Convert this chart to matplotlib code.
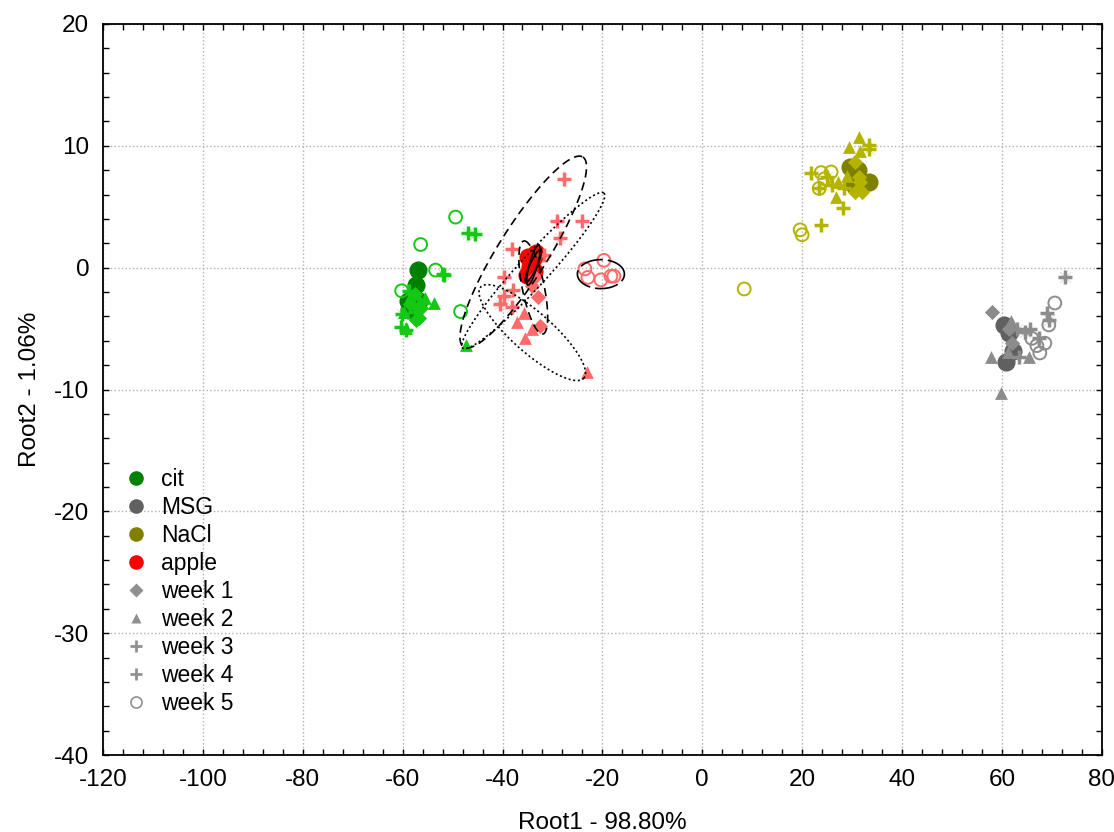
import numpy as np
import matplotlib
matplotlib.use('Agg')
import matplotlib.pyplot as plt
from matplotlib.lines import Line2D
from matplotlib.ticker import MultipleLocator

plt.rcParams['font.family'] = ['Liberation Sans', 'DejaVu Sans']
plt.rcParams['axes.unicode_minus'] = False

# group means (big filled circles)
cit_big = [(-57.0, -0.2), (-57.4, -1.4), (-59.0, -2.7), (-56.8, -2.7), (-58.8, -3.5)]
msg_big = [(60.5, -4.7), (61.5, -5.4), (62.3, -6.8), (60.9, -7.75)]
nacl_big = [(29.5, 8.3), (31.2, 8.0), (33.3, 7.0), (30.2, 6.9), (31.0, 7.4)]
apple_big = [(-33.3, 1.2), (-33.7, 0.9), (-34.1, 0.6), (-34.5, 0.05), (-35.1, -0.6),
             (-33.6, -0.3), (-34.8, 0.9)]

# samples per group and week
cit_w1 = [(-56.8, -4.1), (-58.5, -3.0), (-57.5, -2.2), (-56.3, -3.3), (-57.4, -4.3)]
cit_w2 = [(-53.8, -2.9), (-47.4, -6.35), (-56.5, -2.7), (-59.8, -3.6), (-55.5, -2.5), (-59.4, -4.95)]
cit_w3 = [(-51.8, -0.6), (-60.4, -4.9), (-59.4, -5.1), (-58.8, -1.9), (-57.5, -3.6)]
cit_w4 = [(-47.0, 2.85), (-45.6, 2.8), (-52.0, -0.5), (-60.2, -3.8)]
cit_w5 = [(-49.4, 4.15), (-56.4, 1.9), (-53.4, -0.2), (-60.2, -1.9), (-48.4, -3.6), (-58.0, -2.9)]

msg_w1 = [(58.1, -3.6), (61.5, -5.0), (62.0, -6.2)]
msg_w2 = [(57.9, -7.3), (65.4, -7.3), (59.9, -10.3), (61.8, -4.4), (61.3, -6.9)]
msg_w3 = [(69.0, -3.7), (65.6, -5.0), (67.4, -5.8), (63.5, -7.3)]
msg_w4 = [(72.6, -0.8), (69.4, -4.3), (64.6, -5.3), (63.0, -5.0)]
msg_w5 = [(70.6, -2.9), (69.4, -4.7), (68.6, -6.2), (67.0, -6.4), (67.6, -7.0), (66.0, -5.8)]

nacl_w1 = [(30.5, 8.7), (31.3, 7.4), (30.5, 6.2), (31.9, 6.2), (31.5, 7.0)]
nacl_w2 = [(31.3, 10.7), (29.3, 9.9), (31.5, 9.6), (26.8, 5.8), (27.2, 7.0), (29.0, 7.5)]
nacl_w3 = [(33.3, 10.1), (21.8, 7.8), (28.2, 4.9), (23.8, 3.5), (28.4, 6.5)]
nacl_w4 = [(33.3, 9.7), (23.4, 6.5), (26.0, 6.8), (25.0, 7.4)]
nacl_w5 = [(23.8, 7.8), (25.8, 7.85), (23.4, 6.5), (19.6, 3.1), (20.0, 2.7), (8.4, -1.75), (24.5, 7.3)]

apple_w1 = [(-32.9, -2.4), (-32.5, -4.8), (-34.0, -1.5), (-33.5, -0.8)]
apple_w2 = [(-35.7, -3.7), (-37.2, -4.5), (-35.5, -5.8), (-34.0, -5.0), (-23.1, -8.6)]
apple_w3 = [(-27.7, 7.3), (-29.1, 3.8), (-24.1, 3.8), (-38.2, 1.5), (-39.8, -0.8), (-38.0, -1.8)]
apple_w4 = [(-28.5, 2.4), (-31.7, 1.0), (-39.8, -2.3), (-40.6, -3.0), (-38.2, -3.2)]
apple_w5 = [(-23.5, -0.1), (-22.9, -0.8), (-20.3, -1.0), (-19.7, 0.6), (-18.3, -0.7), (-17.7, -0.7)]

# apple confidence ellipses: centre, conjugate half-axes (data units), style
ell_cx = [-33.84, -34.04, -35.85, -33.84, -20.3, -33.84, -33.84]
ell_cy = [-1.63, -5.33, 1.28, -0.24, -0.53, 0.21, 0.15]
ell_ux = [-1.91, 10.33, 11.94, 14.14, 4.71, 1.10, 1.50]
ell_uy = [3.82, -3.74, 7.80, 6.36, 0.0, 1.64, 1.35]
ell_vx = [2.16, -2.66, 4.25, 2.23, 0.0, 0.77, 0.68]
ell_vy = [0.18, -1.23, -1.09, -0.83, 1.19, -0.09, -0.10]
ell_ls = [(0, (5, 3)), (0, (1.2, 1.6)), (0, (5, 3)), (0, (1.2, 1.6)), (0, (14, 3)), '-', '-']

group_names = ['cit', 'MSG', 'NaCl', 'apple']
dark_cols = ['#008000', '#606060', '#808000', '#ff0000']
light_cols = ['#14c814', '#8c8c8c', '#b4b400', '#ff6b6b']
week_names = ['week 1', 'week 2', 'week 3', 'week 4', 'week 5']

big = [cit_big, msg_big, nacl_big, apple_big]
weeks = [[cit_w1, cit_w2, cit_w3, cit_w4, cit_w5],
         [msg_w1, msg_w2, msg_w3, msg_w4, msg_w5],
         [nacl_w1, nacl_w2, nacl_w3, nacl_w4, nacl_w5],
         [apple_w1, apple_w2, apple_w3, apple_w4, apple_w5]]

fig = plt.figure(figsize=(11.14, 8.32), dpi=100)
ax = fig.add_axes([0.0925, 0.0925, 0.8965, 0.8787])

for g in range(4):
    b = np.array(big[g])
    ax.scatter(b[:, 0], b[:, 1], s=170, c=dark_cols[g], zorder=3, linewidths=0)

for g in range(4):
    col = light_cols[g]
    w1, w2, w3, w4, w5 = [np.array(w) for w in weeks[g]]
    ax.scatter(w1[:, 0], w1[:, 1], s=60, marker='D', c=col, linewidths=0, zorder=4)
    ax.scatter(w2[:, 0], w2[:, 1], s=85, marker='^', c=col, linewidths=0, zorder=4)
    ax.scatter(w3[:, 0], w3[:, 1], s=95, marker='+', c=col, linewidths=2.5, zorder=4)
    ax.scatter(w4[:, 0], w4[:, 1], s=95, marker='+', c=col, linewidths=2.5, zorder=4)
    ax.scatter(w4[:, 0], w4[:, 1], s=60, marker='x', c=col, linewidths=0.6, alpha=0.35, zorder=4)
    ax.scatter(w5[:, 0], w5[:, 1], s=85, marker='o', facecolors='none', edgecolors=col,
               linewidths=1.4, zorder=4)

t = np.linspace(0, 2 * np.pi, 300)
for i in range(len(ell_cx)):
    ex = ell_cx[i] + ell_ux[i] * np.cos(t) + ell_vx[i] * np.sin(t)
    ey = ell_cy[i] + ell_uy[i] * np.cos(t) + ell_vy[i] * np.sin(t)
    ax.plot(ex, ey, color='black', lw=1.2, linestyle=ell_ls[i], zorder=5)

ax.set_xlim(-120, 80)
ax.set_ylim(-40, 20)
ax.xaxis.set_major_locator(MultipleLocator(20))
ax.xaxis.set_minor_locator(MultipleLocator(4))
ax.yaxis.set_major_locator(MultipleLocator(10))
ax.yaxis.set_minor_locator(MultipleLocator(2))
ax.tick_params(which='both', direction='in', top=True, right=True, length=4, width=1.0)
ax.tick_params(which='major', labelsize=17.5, pad=10)
for sp in ax.spines.values():
    sp.set_linewidth(1.3)
ax.grid(True, which='major', linestyle=':', color='#b0b0b0', linewidth=1.0)
ax.set_axisbelow(True)

ax.set_xlabel('Root1 - 98.80%', fontsize=17.5, labelpad=15)
ax.set_ylabel('Root2 - 1.06%', fontsize=17.5, labelpad=9)

handles = []
for g in range(4):
    handles.append(Line2D([], [], marker='o', linestyle='none', markersize=10.5,
                          markerfacecolor=dark_cols[g], markeredgecolor='none'))
wk_marks = ['D', '^', '+', '+', 'o']
for i in range(5):
    if wk_marks[i] == 'o':
        h = Line2D([], [], marker='o', linestyle='none', markersize=8,
                   markerfacecolor='none', markeredgecolor='#909090', markeredgewidth=1.2)
    elif wk_marks[i] == '+':
        h = Line2D([], [], marker='+', linestyle='none', markersize=9,
                   markeredgecolor='#909090', markeredgewidth=2)
    else:
        h = Line2D([], [], marker=wk_marks[i], linestyle='none', markersize=7,
                   markerfacecolor='#909090', markeredgecolor='none')
    handles.append(h)

ax.legend(handles, group_names + week_names, loc='upper left',
          bbox_to_anchor=(0.012, 0.405), frameon=False, fontsize=16.5,
          handlelength=1.0, handletextpad=0.6, labelspacing=0.22, borderaxespad=0)

fig.savefig('out.png', dpi=100)
